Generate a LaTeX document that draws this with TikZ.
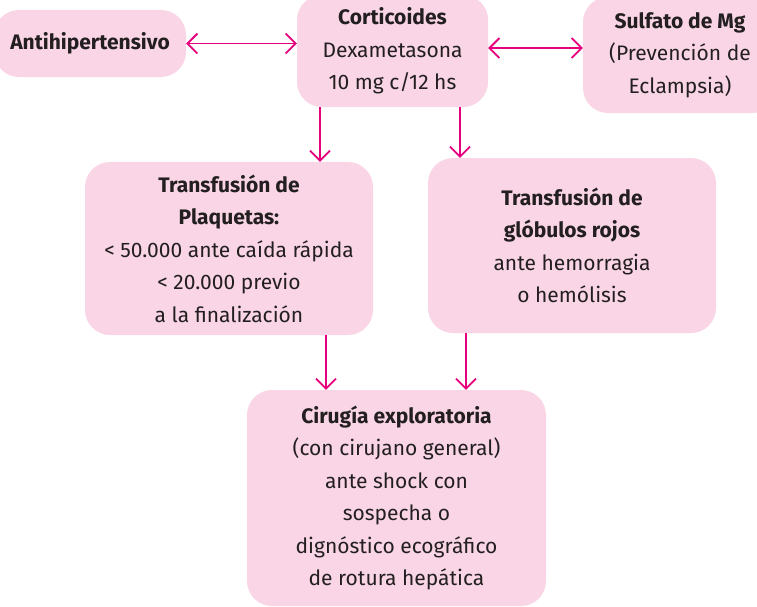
\documentclass[tikz,border=0pt]{standalone}
\usepackage{fontspec}
\setmainfont{Fira Sans}
\usetikzlibrary{arrows.meta}
\definecolor{boxpink}{HTML}{F9D5E5}
\definecolor{arrowpink}{HTML}{E6007E}
\definecolor{txt}{HTML}{231F20}
\tikzset{
  pbox/.style={fill=boxpink, draw=none, rounded corners=25pt, align=center, text=txt,
    font=\fontsize{21}{32.5}\selectfont, inner sep=0pt},
  arr/.style={draw=arrowpink, line width=1.8pt, -{Straight Barb[length=10pt,width=20pt,line width=1.8pt]}},
  darr/.style={draw=arrowpink, line width=1.8pt, {Straight Barb[length=10pt,width=20pt,line width=1.8pt]}-{Straight Barb[length=10pt,width=20pt,line width=1.8pt]}}
}
\begin{document}
\begin{tikzpicture}[x=1pt,y=-1pt]
\useasboundingbox (0,0) rectangle (757,606);
\begin{scope}
\clip (0,0) rectangle (757,606);
\node[pbox, minimum width=192pt, minimum height=67pt] (anti) at (90,43.5) {\textbf{Antihipertensivo}};
\node[pbox, minimum width=191pt, minimum height=112pt] (cort) at (392.5,51) {\textbf{Corticoides}\\Dexametasona\\10 mg c/12 hs};
\node[pbox, minimum width=194pt, minimum height=116pt] (sulf) at (680,55) {\textbf{Sulfato de Mg}\\(Prevención de\\Eclampsia)};
\node[pbox, minimum width=288pt, minimum height=173pt] (plaq) at (229,248.5) {\textbf{Transfusión de}\\\textbf{Plaquetas:}\\< 50.000 ante caída rápida\\< 20.000 previo\\a la finalización};
\node[pbox, minimum width=288pt, minimum height=175pt] (gr) at (572,245.5) {\textbf{Transfusión de}\\\textbf{glóbulos rojos}\\ante hemorragia\\o hemólisis};
\node[pbox, minimum width=299pt, minimum height=216pt] (cir) at (396.5,498) {\textbf{Cirugía exploratoria}\\(con cirujano general)\\ante shock con\\sospecha o\\dignóstico ecográfico\\de rotura hepática};
\end{scope}
\coordinate (h2) at (0,48);
\coordinate (v1) at (320,0);
\coordinate (v2) at (460,0);
\coordinate (v3) at (326,0);
\coordinate (v4) at (466,0);
\draw[darr] (anti.east) -- (anti.east -| cort.west);
\draw[darr] (h2 -| cort.east) -- (h2 -| sulf.west);
\draw[arr] (v1 |- cort.south) -- (v1 |- plaq.north);
\draw[arr] (v2 |- cort.south) -- (v2 |- gr.north);
\draw[arr] (v3 |- plaq.south) -- (v3 |- cir.north);
\draw[arr] (v4 |- gr.south) -- (v4 |- cir.north);
\end{tikzpicture}
\end{document}
